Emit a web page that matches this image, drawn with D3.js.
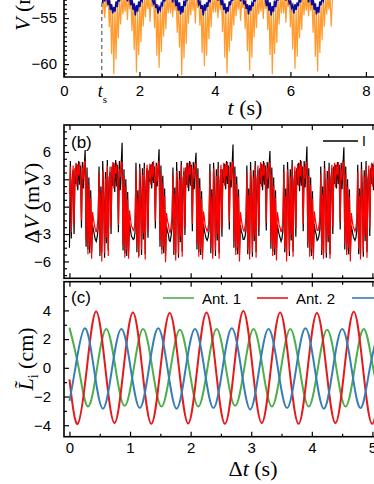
<!DOCTYPE html>
<html>
<head>
<meta charset="utf-8">
<style>
    body { margin: 0; background: #fff; }
    svg { display: block; }
    .tick text { font-family: "Liberation Sans", Arial, sans-serif; font-size: 15px; fill: #000; }
    .tick line { stroke: #000; stroke-width: 1.2; }
    .serif { font-family: "Liberation Serif", "Times New Roman", serif; fill: #000; }
    .sans { font-family: "Liberation Sans", Arial, sans-serif; fill: #000; }
</style>
</head>
<body>
<svg width="374" height="484"></svg>

<script src="https://d3js.org/d3.v7.min.js"></script>
<script>
    // ---- panel (a): V (mV) vs t (s), sampled from t = 1.02 every 0.03 s
    let aStart = 1.02, aStep = 0.03
    let tsValue = 1.0
    let aTicks = [0, 2, 4, 6, 8]
    let aBlue = [
        -53.4, -52.3, -53.2, -52.0, -52.9, -53.6, -53.0, -54.1, -53.5, -54.5, -53.8, -54.3, -53.2, -53.8, -52.7, -53.2, -52.2, -52.9, -52.3,
        -52.0, -52.9, -52.3, -53.2, -51.9, -52.8, -53.6, -52.9, -54.1, -53.4, -54.7, -53.6, -54.3, -53.2, -53.8, -52.8, -53.1, -52.1, -52.8, -52.2,
        -52.1, -52.8, -52.0, -53.0, -52.2, -53.0, -53.4, -53.1, -53.9, -53.5, -54.5, -53.8, -54.1, -53.4, -53.6, -52.6, -53.2, -52.0, -52.9, -52.3,
        -52.0, -53.0, -52.1, -53.3, -51.9, -52.9, -53.7, -53.0, -54.2, -53.3, -54.6, -53.7, -54.4, -53.1, -53.7, -52.9, -53.0, -52.2, -52.7, -52.1,
        -52.2, -52.8, -52.3, -52.9, -52.1, -52.7, -53.5, -53.2, -54.0, -53.6, -54.7, -53.5, -54.2, -53.3, -53.8, -52.7, -53.3, -52.1, -52.9, -52.3,
        -51.9, -52.9, -52.2, -53.1, -52.0, -52.9, -53.6, -52.9, -54.1, -53.4, -54.5, -53.8, -54.3, -53.2, -53.6, -52.8, -53.1, -52.0, -52.8, -52.2,
        -52.1, -52.7, -52.0, -53.2, -52.2, -52.8, -53.5, -53.1, -54.0, -53.5, -54.6, -53.6, -54.2, -53.4, -53.7, -52.6, -53.2, -52.2, -52.9, -52.3,
        -52.0, -53.0, -52.3, -53.0, -51.9, -53.0, -53.7, -53.0, -54.2, -53.3, -54.7, -53.7, -54.3, -53.1, -53.8, -52.9, -53.0, -52.1, -52.7, -52.1,
        -52.2, -52.8, -52.1, -53.1, -52.1, -52.7, -53.4, -53.2, -53.9, -53.6, -54.5, -53.5, -54.1, -53.3, -53.7, -52.7, -53.3, -52.0, -52.9, -52.4,
        -51.9, -52.9, -52.2, -53.3, -52.0, -52.9, -53.6, -52.9, -54.1, -53.4, -54.6, -53.8, -54.4, -53.2, -53.6, -52.8, -53.1, -52.2, -52.8, -52.2,
        -52.7
    ]
    let aOrange = [
        -54.6, -52.4, -55.0, -52.8, -53.8, -52.5, -56.0, -53.1, -58.9, -53.7, -61.1, -54.0, -59.5, -53.4, -57.2, -52.9, -55.7, -52.6, -54.6,
        -52.6, -54.3, -52.4, -55.2, -52.7, -54.0, -52.5, -56.4, -53.2, -58.5, -53.8, -60.9, -54.2, -59.0, -53.5, -57.6, -52.8, -55.9, -52.6, -54.9,
        -52.5, -54.0, -52.6, -55.4, -52.9, -53.8, -52.4, -56.1, -53.0, -59.1, -53.6, -60.4, -54.0, -58.7, -53.3, -57.0, -52.7, -56.2, -52.5, -54.5,
        -52.7, -54.5, -52.3, -54.9, -52.6, -54.2, -52.6, -56.6, -53.3, -58.2, -53.9, -61.2, -54.3, -59.4, -53.6, -57.8, -52.9, -55.6, -52.4, -54.7,
        -52.4, -54.2, -52.5, -55.6, -52.8, -53.9, -52.5, -55.8, -53.1, -58.8, -53.7, -60.2, -54.1, -59.1, -53.4, -57.3, -52.8, -56.0, -52.6, -54.4,
        -52.6, -54.4, -52.4, -55.0, -52.7, -54.1, -52.4, -56.5, -53.2, -59.3, -53.8, -61.0, -54.2, -58.6, -53.5, -57.5, -52.7, -55.8, -52.5, -54.8,
        -52.5, -54.1, -52.6, -55.3, -52.9, -53.9, -52.6, -56.2, -53.0, -58.6, -53.6, -60.7, -54.0, -59.3, -53.3, -57.1, -52.8, -56.1, -52.6, -54.6,
        -52.7, -54.3, -52.3, -55.1, -52.6, -54.0, -52.5, -56.3, -53.3, -59.0, -53.9, -61.1, -54.3, -58.9, -53.6, -57.7, -52.9, -55.7, -52.4, -54.5,
        -52.4, -54.5, -52.5, -55.5, -52.8, -53.8, -52.4, -56.0, -53.1, -58.4, -53.7, -60.5, -54.1, -59.2, -53.4, -57.2, -52.7, -56.3, -52.5, -54.7,
        -52.6, -54.2, -52.4, -54.8, -52.7, -54.2, -52.6, -56.6, -53.2, -59.2, -53.8, -60.8, -54.2, -58.8, -53.5, -57.4, -52.8, -55.9, -52.6, -54.6,
        -52.6, -54.1, -52.5, -55.9, -53.0
    ]

    // ---- panel (b): Delta V (mV), sampled from dt = 0 every 0.01525 s
    let bStart = 0, bStep = 0.01525
    let bBlack = [
        -4.5, 5.0, -3.5, 3.0, 4.0, -3.0, 4.2, 2.5, 4.7, 1.8, 5.0, 2.4, 4.5, -2.3, 4.9, 2.0, 4.4, 6.2, -4.4, 4.3, -4.7, 3.2, -5.1, 1.8, -5.0, -2.0, -2.6, -3.1,
        -3.6, -3.8, -3.3, -2.5, 4.4, -5.4, 2.2, -5.0, 5.0, 1.4, -5.6, 3.8, -4.0, 5.1, -4.8, 3.2, 3.8, -3.0, 4.4, 2.3, 4.8, 1.6, 5.1, 2.2, 4.6, -2.8, 5.0, 1.8, 4.5, 7.0, -4.8, 4.1, -5.1, 3.0, -5.4, 1.6, -5.0, -1.8, -2.5, -3.2,
        -3.4, -3.6, -3.5, -2.8, 4.8, -5.0, 1.8, -5.4, 4.7, 1.8, -5.3, 4.2, -3.6, 4.8, -5.2, 2.8, 4.2, -3.4, 4.0, 2.7, 4.6, 2.0, 4.9, 2.6, 4.4, -2.4, 4.8, 2.2, 4.3, 6.3, -4.4, 4.5, -4.7, 3.4, -5.1, 2.0, -5.4, -2.1, -2.7, -3.0,
        -3.7, -3.8, -3.2, -2.4, 4.3, -5.3, 2.1, -5.1, 4.9, 1.5, -5.6, 3.9, -3.9, 5.0, -4.9, 3.1, 3.9, -3.1, 4.3, 2.4, 4.8, 1.7, 5.0, 2.3, 4.6, -2.7, 4.9, 1.9, 4.5, 5.9, -4.7, 4.2, -5.0, 3.1, -5.3, 1.7, -5.1, -1.9, -2.6, -3.1,
        -3.5, -3.7, -3.4, -2.7, 4.7, -5.1, 1.9, -5.3, 4.8, 1.7, -5.4, 4.1, -3.7, 4.9, -5.1, 2.9, 4.1, -3.3, 4.1, 2.6, 4.7, 1.9, 5.0, 2.5, 4.5, -2.5, 4.9, 2.1, 4.4, 6.8, -4.5, 4.4, -4.8, 3.3, -5.2, 1.9, -5.3, -2.0, -2.7, -3.0,
        -3.6, -3.6, -3.3, -2.6, 4.5, -5.2, 2.0, -5.2, 4.9, 1.6, -5.5, 4.0, -3.8, 5.0, -5.0, 3.0, 4.0, -3.2, 4.2, 2.5, 4.7, 1.8, 5.0, 2.4, 4.5, -2.6, 4.9, 2.0, 4.4, 6.1, -4.6, 4.3, -4.9, 3.2, -5.3, 1.8, -5.2, -2.0, -2.6, -3.1,
        -3.4, -3.8, -3.5, -2.6, 4.6, -5.0, 2.0, -5.4, 4.9, 1.7, -5.4, 4.1, -3.7, 5.1, -4.9, 2.9, 3.9, -3.3, 4.2, 2.4, 4.8, 1.7, 5.1, 2.3, 4.4, -2.7, 5.0, 2.1, 4.3, 6.6, -4.5, 4.2, -5.0, 3.2, -5.4, 1.7, -5.1, -1.9, -2.7, -3.0,
        -3.7, -3.6, -3.2, -2.5, 4.4, -5.3, 2.2, -5.1, 5.0, 1.5, -5.6, 3.9, -3.9, 4.8, -5.2, 3.1, 4.2, -3.0, 4.4, 2.5, 4.6, 2.0, 4.9, 2.5, 4.6, -2.5, 4.8, 1.9, 4.6, 6.5, -4.7, 4.4, -4.8, 3.0, -5.2, 1.9, -5.3, -2.1, -2.6, -3.2,
        -3.5, -3.7, -3.4, -2.6, 4.6, -5.2, 2.0, -5.2, 4.9, 1.6, -5.5, 4.0, -3.8, 5.0, -5.0, 3.0, 4.0, -3.2, 4.2, 2.5, 4.7, 1.8, 5.0, 2.4, 4.5, -2.6, 4.9, 2.0
    ]
    let bRed = [
        1.4, 4.4, -2.8, 2.1, 4.5, -1.9, 3.0, 4.8, 2.2, 4.6, 3.4, 4.9, 2.6, -1.5, 4.3, 3.0, 4.8, 5.0, -3.6, 3.5, -5.2, 2.4, -4.4, 1.0, -5.7, -0.6, -1.4, -2.0,
        -2.5, -2.8, -2.2, -1.3, 3.6, -4.9, 1.5, -6.0, 4.0, 0.3, -5.1, 3.1, -3.4, 4.5, -5.4, 2.4, 4.4, -2.1, 3.2, 4.9, 2.0, 4.5, 3.6, 4.8, 2.4, -2.0, 4.1, 3.2, 4.9, 4.8, -4.2, 3.3, -5.6, 2.2, -4.8, 0.8, -5.7, -0.4, -1.3, -2.1,
        -2.3, -2.6, -2.4, -1.7, 4.0, -4.4, 0.9, -5.6, 4.3, 0.8, -4.7, 3.5, -2.9, 4.2, -5.8, 1.9, 4.6, -2.6, 2.8, 4.7, 2.4, 4.7, 3.2, 5.0, 2.8, -1.6, 4.5, 2.8, 4.6, 5.0, -3.7, 3.7, -5.2, 2.6, -4.4, 1.2, -6.1, -0.7, -1.5, -1.9,
        -2.6, -2.9, -2.1, -1.2, 3.5, -4.8, 1.4, -5.9, 3.9, 0.4, -5.2, 3.0, -3.3, 4.6, -5.5, 2.3, 4.3, -2.2, 3.3, 4.8, 2.1, 4.4, 3.5, 4.9, 2.5, -1.9, 4.2, 3.1, 4.7, 4.7, -4.1, 3.4, -5.5, 2.1, -4.7, 0.9, -5.8, -0.5, -1.2, -2.2,
        -2.4, -2.7, -2.3, -1.6, 3.9, -4.5, 1.1, -5.7, 4.2, 0.7, -4.8, 3.4, -3.0, 4.3, -5.7, 2.0, 4.6, -2.5, 2.9, 4.8, 2.3, 4.6, 3.3, 4.9, 2.7, -1.7, 4.4, 2.9, 4.8, 4.9, -3.8, 3.6, -5.3, 2.5, -4.5, 1.1, -6.0, -0.6, -1.4, -2.0,
        -2.5, -2.7, -2.2, -1.4, 3.7, -4.7, 1.3, -5.8, 4.0, 0.5, -5.0, 3.2, -3.2, 4.4, -5.6, 2.2, 4.5, -2.3, 3.1, 4.9, 2.2, 4.5, 3.4, 4.8, 2.6, -1.8, 4.3, 3.0, 4.8, 4.8, -4.0, 3.5, -5.4, 2.3, -4.6, 1.0, -5.9, -0.6, -1.3, -2.1,
        -2.3, -2.8, -2.4, -1.5, 3.8, -4.6, 1.2, -6.0, 4.1, 0.6, -4.9, 3.3, -3.1, 4.5, -5.5, 2.1, 4.4, -2.4, 3.0, 4.7, 2.3, 4.7, 3.3, 5.0, 2.5, -1.9, 4.4, 3.1, 4.7, 4.9, -3.9, 3.4, -5.5, 2.4, -4.7, 0.9, -5.8, -0.5, -1.4, -2.0,
        -2.6, -2.6, -2.1, -1.3, 3.6, -4.8, 1.4, -5.7, 4.2, 0.4, -5.1, 3.1, -3.3, 4.3, -5.7, 2.3, 4.6, -2.2, 3.2, 4.8, 2.1, 4.6, 3.5, 4.9, 2.7, -1.7, 4.2, 2.9, 4.9, 4.7, -4.1, 3.6, -5.3, 2.2, -4.5, 1.1, -6.0, -0.7, -1.5, -2.2,
        -2.4, -2.7, -2.3, -1.5, 3.8, -4.6, 1.2, -5.8, 4.1, 0.6, -4.9, 3.3, -3.1, 4.4, -5.6, 2.1, 4.5, -2.4, 3.0, 4.8, 2.2, 4.6, 3.4, 4.9, 2.6, -1.8, 4.3, 3.0
    ]

    // ---- panel (c): L_i (cm), peaks / troughs / crossings of each antenna [dt, value]
    let antNames = ["Ant. 1", "Ant. 2", "Ant. 3"]
    let antColors = ["#4daf4a", "#e41a1c", "#377eb8"]
    let ant1 = [
        [0.000, 2.8], [0.152, 0], [0.304, -2.7], [0.456, 0], [0.608, 2.7], [0.759, 0], [0.911, -2.65], [1.063, 0],
        [1.215, 2.7], [1.367, 0], [1.519, -2.7], [1.671, 0], [1.823, 2.65], [1.974, 0], [2.126, -2.7], [2.278, 0],
        [2.430, 2.7], [2.582, 0], [2.734, -2.65], [2.886, 0], [3.038, 2.7], [3.189, 0], [3.341, -2.7], [3.493, 0],
        [3.645, 2.7], [3.797, 0], [3.949, -2.7], [4.101, 0], [4.253, 2.65], [4.404, 0], [4.556, -2.7], [4.708, 0],
        [4.860, 2.7], [5.012, 0], [5.164, -2.7]
    ]
    let ant2 = [
        [0.000, -0.8], [0.136, -3.9], [0.288, 0], [0.440, 3.92], [0.592, 0], [0.744, -3.85], [0.895, 0], [1.047, 3.85],
        [1.199, 0], [1.351, -3.9], [1.503, 0], [1.655, 3.82], [1.807, 0], [1.959, -3.88], [2.110, 0], [2.262, 3.85],
        [2.414, 0], [2.566, -3.9], [2.718, 0], [2.870, 3.95], [3.022, 0], [3.174, -3.85], [3.325, 0], [3.477, 3.85],
        [3.629, 0], [3.781, -3.9], [3.933, 0], [4.085, 3.82], [4.237, 0], [4.389, -3.85], [4.540, 0], [4.692, 3.9],
        [4.844, 0], [4.996, -3.9], [5.148, 0]
    ]
    let ant3 = [
        [0.000, -2.3], [0.098, 0], [0.250, 2.75], [0.402, 0], [0.554, -2.85], [0.705, 0], [0.857, 2.7], [1.009, 0],
        [1.161, -2.8], [1.313, 0], [1.465, 2.75], [1.617, 0], [1.769, -2.85], [1.920, 0], [2.072, 2.7], [2.224, 0],
        [2.376, -2.8], [2.528, 0], [2.680, 2.75], [2.832, 0], [2.984, -2.9], [3.135, 0], [3.287, 2.7], [3.439, 0],
        [3.591, -2.8], [3.743, 0], [3.895, 2.75], [4.047, 0], [4.199, -2.85], [4.350, 0], [4.502, 2.7], [4.654, 0],
        [4.806, -2.8], [4.958, 0], [5.110, 2.75]
    ]

    let svg = d3.select("svg")

    function noDomain(g) { g.select(".domain").remove() }

    // ================= panel (a)
    let xA = d3.scaleLinear().domain([0, 8.4]).range([64, 381])
    let yA = d3.scaleLinear().domain([-61.4, -45]).range([77, -74])

    svg.append("clipPath").attr("id", "clipA")
        .append("rect").attr("x", 64).attr("y", -74).attr("width", 317).attr("height", 151)

    let lineA = d3.line()
        .x((d, i) => xA(aStart + i * aStep))
        .y(d => yA(d))

    svg.append("path")
        .attr("clip-path", "url(#clipA)")
        .attr("d", lineA(aOrange))
        .style("fill", "none").style("stroke", "#ff9b2f").style("stroke-width", 1.2)

    svg.append("path")
        .attr("clip-path", "url(#clipA)")
        .attr("d", lineA(aBlue))
        .style("fill", "none").style("stroke", "#0a0a9e").style("stroke-width", 1.6)

    svg.append("line")
        .attr("x1", xA(tsValue)).attr("x2", xA(tsValue))
        .attr("y1", -74).attr("y2", 77)
        .style("stroke", "#808080").style("stroke-width", 1.5).style("stroke-dasharray", "4,3")

    svg.append("g").attr("transform", "translate(0,77)")
        .call(d3.axisBottom(xA).tickValues(aTicks).tickSizeInner(-5).tickSizeOuter(0).tickPadding(8))
        .call(noDomain)
    svg.append("g").attr("transform", "translate(0,77)")
        .call(d3.axisBottom(xA).tickValues([1, 3, 5, 7]).tickSizeInner(-3).tickSizeOuter(0).tickFormat(""))
        .call(noDomain)
    svg.append("g").attr("transform", "translate(64,0)")
        .call(d3.axisLeft(yA).tickValues([-60, -55]).tickSizeInner(-5).tickSizeOuter(0).tickPadding(7))
        .call(noDomain)
    svg.append("g").attr("transform", "translate(64,0)")
        .call(d3.axisLeft(yA).tickValues(d3.range(-61, -52.9, 0.5).filter(v => v % 5 != 0)).tickSizeInner(-3).tickSizeOuter(0).tickFormat(""))
        .call(noDomain)

    svg.append("path").attr("d", "M64,-74V77H381")
        .style("fill", "none").style("stroke", "#000").style("stroke-width", 1.6)

    // t_s label
    let tsText = svg.append("text").attr("class", "serif")
        .attr("x", xA(tsValue) - 4).attr("y", 97)
        .style("font-size", "18px")
    tsText.append("tspan").style("font-style", "italic").text("t")
    tsText.append("tspan").attr("dy", 6).style("font-size", "11px").text("s")

    let vTitle = svg.append("text").attr("class", "serif")
        .attr("transform", "translate(30,31) rotate(-90)")
        .style("font-size", "22px")
    vTitle.append("tspan").style("font-style", "italic").text("V")
    vTitle.append("tspan").text(" (mV)")

    let tTitle = svg.append("text").attr("class", "serif")
        .attr("x", 245).attr("y", 115).attr("text-anchor", "middle")
        .style("font-size", "22px")
    tTitle.append("tspan").style("font-style", "italic").text("t")
    tTitle.append("tspan").text(" (s)")

    // ================= panels (b) and (c) share the dt axis
    let xB = d3.scaleLinear().domain([-0.09, 5.15]).range([64, 381.5])
    let yB = d3.scaleLinear().domain([-7.85, 8.95]).range([278.3, 125])
    let yC = d3.scaleLinear().domain([-4.8, 6]).range([436.7, 281.7])

    svg.append("clipPath").attr("id", "clipB")
        .append("rect").attr("x", 64).attr("y", 125).attr("width", 317.5).attr("height", 153.3)
    svg.append("clipPath").attr("id", "clipC")
        .append("rect").attr("x", 64).attr("y", 281.7).attr("width", 317.5).attr("height", 155)

    let lineB = d3.line()
        .x((d, i) => xB(bStart + i * bStep))
        .y(d => yB(d))

    svg.append("path").attr("clip-path", "url(#clipB)")
        .attr("d", lineB(bBlack))
        .style("fill", "none").style("stroke", "#000").style("stroke-width", 1.2)
    svg.append("path").attr("clip-path", "url(#clipB)")
        .attr("d", lineB(bRed))
        .style("fill", "none").style("stroke", "#ff0000").style("stroke-width", 1.2)

    let lineC = d3.line()
        .x(d => xB(d[0]))
        .y(d => yC(d[1]))
        .curve(d3.curveNatural)

    ;[ant1, ant2, ant3].forEach((s, k) => {
        svg.append("path").attr("clip-path", "url(#clipC)")
            .attr("d", lineC(s))
            .style("fill", "none").style("stroke", antColors[k]).style("stroke-width", 2)
    })

    let majorX = [0, 1, 2, 3, 4, 5]
    let minorX = [0.5, 1.5, 2.5, 3.5, 4.5]

    function boxTicks(yTop, yBottom, labels) {
        svg.append("g").attr("transform", `translate(0,${yBottom})`)
            .call(d3.axisBottom(xB).tickValues(majorX).tickSizeInner(-5).tickSizeOuter(0).tickPadding(6)
                .tickFormat(labels ? d3.format("d") : ""))
            .call(noDomain)
        svg.append("g").attr("transform", `translate(0,${yBottom})`)
            .call(d3.axisBottom(xB).tickValues(minorX).tickSizeInner(-3).tickSizeOuter(0).tickFormat(""))
            .call(noDomain)
        svg.append("g").attr("transform", `translate(0,${yTop})`)
            .call(d3.axisTop(xB).tickValues(majorX).tickSizeInner(-5).tickSizeOuter(0).tickFormat(""))
            .call(noDomain)
        svg.append("g").attr("transform", `translate(0,${yTop})`)
            .call(d3.axisTop(xB).tickValues(minorX).tickSizeInner(-3).tickSizeOuter(0).tickFormat(""))
            .call(noDomain)
        svg.append("rect").attr("x", 64).attr("y", yTop).attr("width", 317.5).attr("height", yBottom - yTop)
            .style("fill", "none").style("stroke", "#000").style("stroke-width", 1.6)
    }

    boxTicks(125, 278.3, false)
    boxTicks(281.7, 436.7, true)

    svg.append("g").attr("transform", "translate(64,0)")
        .call(d3.axisLeft(yB).tickValues([-6, -3, 0, 3, 6]).tickSizeInner(-5).tickSizeOuter(0).tickPadding(13))
        .call(noDomain)
    svg.append("g").attr("transform", "translate(64,0)")
        .call(d3.axisLeft(yB).tickValues(d3.range(-7.5, 8.9, 0.75).filter(v => v % 3 != 0)).tickSizeInner(-3).tickSizeOuter(0).tickFormat(""))
        .call(noDomain)

    svg.append("g").attr("transform", "translate(64,0)")
        .call(d3.axisLeft(yC).tickValues([-4, -2, 0, 2, 4]).tickSizeInner(-5).tickSizeOuter(0).tickPadding(13))
        .call(noDomain)
    svg.append("g").attr("transform", "translate(64,0)")
        .call(d3.axisLeft(yC).tickValues([-3, -1, 1, 3, 5]).tickSizeInner(-3).tickSizeOuter(0).tickFormat(""))
        .call(noDomain)

    // panel labels
    svg.append("text").attr("class", "sans").attr("x", 71).attr("y", 148)
        .style("font-size", "17px").text("(b)")
    svg.append("text").attr("class", "sans").attr("x", 71).attr("y", 303)
        .style("font-size", "17px").text("(c)")

    // legend (b)
    svg.append("line").attr("x1", 323).attr("x2", 358).attr("y1", 141).attr("y2", 141)
        .style("stroke", "#000").style("stroke-width", 1.6)
    svg.append("text").attr("class", "sans").attr("x", 362).attr("y", 146)
        .style("font-size", "14px").text("I")

    // legend (c)
    let legX = [163, 257, 352]
    antNames.forEach((n, k) => {
        svg.append("line").attr("x1", legX[k]).attr("x2", legX[k] + 31).attr("y1", 298).attr("y2", 298)
            .style("stroke", antColors[k]).style("stroke-width", 1.6)
        svg.append("text").attr("class", "sans").attr("x", legX[k] + 39).attr("y", 303.5)
            .style("font-size", "15px").text(n)
    })

    // axis titles
    let dvTitle = svg.append("text").attr("class", "serif")
        .attr("transform", "translate(39,203) rotate(-90)").attr("text-anchor", "middle")
        .style("font-size", "22px")
    dvTitle.append("tspan").text("Δ")
    dvTitle.append("tspan").style("font-style", "italic").text("V")
    dvTitle.append("tspan").text(" (mV)")

    let lTitle = svg.append("text").attr("class", "serif")
        .attr("transform", "translate(33,359) rotate(-90)").attr("text-anchor", "middle")
        .style("font-size", "22px")
    lTitle.append("tspan").style("font-style", "italic").text("L\u0303")
    lTitle.append("tspan").attr("dy", 5).style("font-size", "14px").text("i")
    lTitle.append("tspan").attr("dy", -5).text(" (cm)")

    let dtTitle = svg.append("text").attr("class", "serif")
        .attr("x", 253).attr("y", 476).attr("text-anchor", "middle")
        .style("font-size", "22px")
    dtTitle.append("tspan").text("Δ")
    dtTitle.append("tspan").style("font-style", "italic").text("t")
    dtTitle.append("tspan").text(" (s)")
</script>
</body>
</html>
